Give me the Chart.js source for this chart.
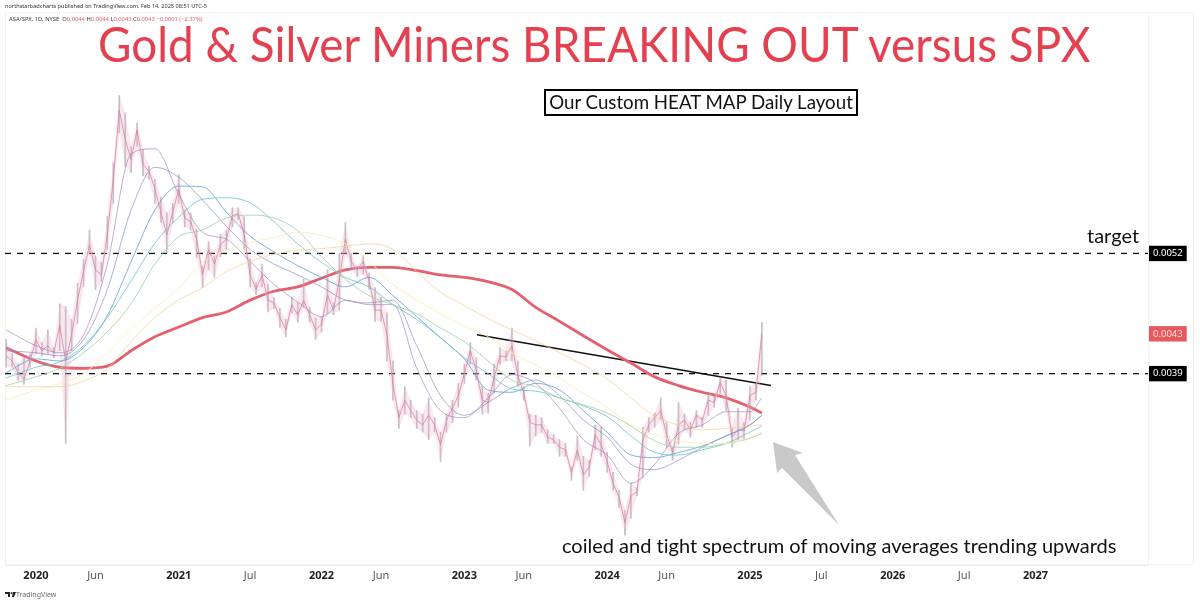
<!DOCTYPE html>
<html>
<head>
<meta charset="utf-8">
<script src="https://cdn.jsdelivr.net/npm/chart.js@4"></script>
<style>
  html, body { margin: 0; padding: 0; background: #fff; overflow: hidden; }
  #wrap { position: relative; width: 1200px; height: 603px; font-family: "Noto Sans", sans-serif; }
  #priceChart { position: absolute; left: 0; top: 0; }
  .txt { position: absolute; white-space: nowrap; color: #111; line-height: 1; }
  .note { font-family: Lato, sans-serif; font-variant-ligatures: none; }
  .up { color: #e0606a; }
  #frame { position: absolute; left: 5px; top: 12px; width: 1189px; height: 553px; border: 1px solid #f2f2f2; box-sizing: border-box; }
  #arrow, #logo { position: absolute; left: 0; top: 0; }
</style>
</head>
<body>
<div id="wrap">
  <div id="frame"></div>
  <canvas id="priceChart" width="1200" height="603"></canvas>
  <svg id="arrow" width="1200" height="603"><polygon points="773,442 803,453 795,455 839,525 782,468 777,473" fill="#c9c9c9"/></svg>

  <div class="txt" style="left:5px;top:4px;font-size:5.6px;color:#333">northstarbadcharts published on TradingView.com, Feb 14, 2025 08:51 UTC-5</div>
  <div class="txt" style="left:9px;top:17px;font-size:5.8px;color:#333">ASA/SPX, 1D, NYSE &nbsp;O<span class="up">0.0044</span> H<span class="up">0.0044</span> L<span class="up">0.0043</span> C<span class="up">0.0043</span> <span class="up">−0.0001 (−2.37%)</span></div>
  <div class="txt note" id="title" style="left:98px;top:20px;font-size:48px;color:#e5404f;transform:scaleX(.955);transform-origin:left top">Gold &amp; Silver Miners BREAKING OUT versus SPX</div>
  <div class="txt note" style="left:544px;top:89px;width:314px;height:27px;box-sizing:border-box;border:2px solid #000;font-size:18.7px;text-align:center;line-height:23px">Our Custom HEAT MAP Daily Layout</div>
  <div class="txt note" style="left:1087px;top:225px;font-size:20px">target</div>
  <div class="txt note" style="left:562px;top:535px;font-size:20px">coiled and tight spectrum of moving averages trending upwards</div>

  <svg id="logo" width="1200" height="603"><path d="M5 592h5v5h-2v-3H5zM13 592h3l-2 5h-2z" fill="#222"/><circle cx="11.6" cy="593" r="0.9" fill="#222"/></svg>
  <div class="txt" style="left:16px;top:591px;font-size:7px;color:#666">TradingView</div>
</div>

<script>
// ASA/SPX daily, sampled every half month, values are ratio x 10000
const ratioHigh = [
  42.3,40.9,39.9,40.5,40.9,43.5,42.0,43.3,41.5,46.1,45.8,44.4,48.4,51.3,55.0,51.7,50.9,56.8,64.6,75.9,
  72.8,67.2,71.1,66.7,64.1,62.1,59.5,57.3,58.6,62.8,57.7,57.3,55.1,50.4,53.5,51.7,54.4,55.0,58.0,58.0,
  56.8,51.3,48.5,50.7,48.3,46.8,45.6,44.4,46.8,46.2,48.9,45.7,44.6,44.7,50.0,46.2,52.0,56.0,52.0,50.4,
  51.7,49.6,47.9,46.8,45.1,40.2,35.7,37.8,36.6,35.7,35.4,36.8,35.1,33.9,35.4,36.6,38.1,39.9,42.0,40.5,
  37.8,37.2,39.9,41.5,41.2,43.5,40.2,37.8,35.4,35.3,35.1,34.1,33.7,33.3,33.0,31.2,33.6,32.0,31.7,34.5,
  34.3,32.3,30.8,29.5,28.1,30.0,29.7,34.3,35.1,35.5,36.8,34.7,32.7,36.4,35.4,34.7,35.7,35.1,37.3,37.0,
  38.6,38.4,34.3,35.9,34.7,37.8,38.1,44.1
];
const ratioLow = [
  39.6,39.6,38.4,38.0,39.6,40.9,40.7,40.9,40.5,41.2,33.0,41.2,44.0,48.0,52.0,47.7,48.6,52.5,58.6,69.4,
  64.0,63.1,67.2,62.6,62.1,58.6,56.0,52.0,56.0,58.6,55.4,55.0,51.5,47.9,50.0,49.1,51.6,52.5,55.4,56.4,
  52.5,48.0,47.1,48.0,45.2,45.6,43.6,42.6,45.1,44.1,45.7,44.1,42.3,43.1,45.0,44.9,45.4,52.0,50.0,49.2,
  49.5,47.7,44.2,44.2,40.2,36.6,34.2,35.4,35.1,34.2,33.9,33.3,33.9,31.6,33.9,34.7,36.0,38.1,39.9,38.4,
  35.4,35.5,37.2,39.9,40.2,40.2,37.8,36.6,32.8,33.6,33.9,33.0,33.0,32.0,32.0,30.2,31.7,29.5,30.5,32.5,
  32.0,30.8,29.5,28.3,26.5,27.6,29.1,30.4,33.9,34.3,34.9,32.7,31.7,33.0,34.1,33.5,34.3,34.3,35.3,36.0,
  37.2,35.7,32.7,33.3,33.3,34.9,36.6,38.8
];
const ratioClose = [
  40.7,40.2,39.1,38.5,40.2,42.3,41.2,41.7,41.0,43.8,40.2,42.8,46.5,49.8,53.1,50.0,49.4,54.4,62.1,73.3,
  68.3,65.1,69.9,64.3,63.3,60.7,57.4,54.4,57.4,60.7,56.6,56.1,53.8,49.4,52.5,50.7,53.1,53.8,56.9,57.2,
  54.4,49.4,47.7,49.4,46.5,46.2,44.6,43.3,46.0,44.9,46.5,44.9,43.3,43.9,47.1,45.4,48.9,53.8,51.0,50.0,
  51.0,48.6,45.4,45.4,42.8,38.0,35.1,36.6,35.7,34.9,34.5,35.3,34.5,32.9,34.9,35.9,37.0,39.0,41.2,39.3,
  36.6,36.4,38.6,40.7,40.6,41.7,38.8,37.2,34.7,34.5,34.5,33.5,33.3,32.7,32.5,30.8,32.5,30.6,31.2,33.7,
  32.9,31.6,30.0,29.0,27.3,29.1,29.4,33.3,34.5,35.1,35.7,33.7,32.3,34.5,34.9,34.1,35.3,34.9,36.6,36.4,
  38.2,37.0,33.5,34.1,34.0,37.0,37.3,42.9
];

// moving averages, read every two months (months since Jan 2020)
const maMonths = [-2.5,0,2,4,6,8,10,12,14,16,18,20,22,24,26,28,30,32,34,36,38,40,42,44,46,48,50,52,54,56,58,60,61];
const maPurple = [43.3,41.7,41.0,42.8,50.7,66.0,66.8,59.9,54.7,53.8,51.0,48.3,46.3,44.7,46.5,46.0,46.0,39.5,35.7,35.1,36.8,38.9,38.1,35.9,33.3,32.1,30.0,31.4,33.8,34.5,35.6,35.6,36.8];
const maSlate = [41.2,41.0,40.7,42.3,47.7,57.7,63.9,62.4,59.1,55.5,52.5,50.7,49.4,48.0,46.5,46.2,46.5,41.7,37.0,35.3,36.4,37.7,38.4,37.0,34.9,33.5,31.4,31.0,31.7,32.7,33.6,34.5,35.3];
const maBlue = [39.1,40.4,40.2,41.5,44.8,51.0,57.7,61.1,61.0,57.4,54.2,52.2,50.5,49.1,48.0,49.1,47.0,44.7,42.5,40.4,37.5,37.3,38.1,37.5,35.7,33.9,32.1,31.9,32.3,32.8,33.6,34.5,35.3];
const maTeal = [38.6,39.6,40.1,41.7,44.6,48.7,53.3,56.7,59.2,59.4,58.7,56.1,53.2,50.9,49.1,48.0,46.0,44.4,42.5,40.5,39.0,37.6,37.4,36.8,36.1,35.2,33.6,32.3,32.1,32.5,33.0,33.9,34.4];
const maGreen = [37.9,38.7,39.5,41.0,43.1,46.1,50.7,54.1,55.0,56.6,57.0,56.6,54.9,51.6,48.9,47.0,46.0,45.0,43.5,42.1,40.2,38.4,37.8,36.8,36.2,35.5,34.4,33.2,32.7,32.7,33.0,33.4,33.8];
const maYellow = [36.6,37.5,38.1,39.0,41.0,43.4,45.6,47.9,50.9,52.4,53.4,54.0,54.7,54.3,53.2,51.0,48.3,46.5,45.0,43.7,42.6,41.0,39.8,38.6,37.2,36.0,34.5,33.7,33.2,33.0,33.0,33.5,33.9];
const maOrange = [37.8,37.8,37.8,38.3,39.5,42.1,44.6,46.5,47.9,49.8,51.0,51.9,52.4,52.6,52.9,53.2,52.5,49.8,47.4,45.9,44.5,43.3,42.2,41.0,39.8,38.5,36.8,35.2,34.5,34.1,34.2,34.4,34.5];
const maRed = [41.5,40.2,39.6,39.5,39.7,41.2,42.6,43.6,44.6,45.2,46.5,47.5,48.0,49.0,50.0,50.3,50.3,49.9,49.4,49.1,48.6,47.7,45.7,44.2,42.7,41.3,40.0,38.7,37.9,37.3,36.8,36.0,35.5];

// drawn levels and trend line
const targetLevel = 52;
const supportLevel = 39;
const lastClose = 42.9;
const trendMonths = [37.06, 61.76];
const trendValues = [42.8, 37.9];

const xTickMonths = [0,5,12,18,24,29,36,41,48,53,60,66,72,78,84];
const xTickLabels = ['2020','Jun','2021','Jul','2022','Jun','2023','Jun','2024','Jun','2025','Jul','2026','Jul','2027'];
const yTicks = [targetLevel, lastClose, supportLevel];

const xMin = -2.6, xMax = 93.45, yMin = 24.67, yMax = 92.67;
const priceMonths = ratioClose.map((_, i) => i * 0.5 - 2.5);

function toXY(xs, ys) { return ys.map((y, i) => ({x: xs[i], y: y})); }

function maLine(values, color, width) {
    return {
        data: toXY(maMonths, values),
        borderColor: color,
        borderWidth: width || 0.9,
        pointRadius: 0,
        cubicInterpolationMode: 'monotone'
    };
}

function level(value) {
    return {
        data: [{x: xMin, y: value}, {x: xMax, y: value}],
        borderColor: '#111',
        borderWidth: 1.3,
        borderDash: [6, 6],
        pointRadius: 0
    };
}

// year labels are bold, month labels are not (no tick while the scale measures itself)
function isYear(c) {
    return !c.tick || xTickLabels[xTickMonths.indexOf(c.tick.value)].startsWith('20');
}
function isLast(c) {
    return c.tick && c.tick.value === lastClose;
}

const datasets = [
    maLine(maOrange, 'rgba(243,210,150,.85)'),
    maLine(maYellow, 'rgba(250,236,180,.9)'),
    maLine(maGreen, 'rgba(160,208,165,.9)'),
    maLine(maTeal, 'rgba(105,195,200,.9)'),
    maLine(maBlue, 'rgba(100,160,210,.9)'),
    maLine(maSlate, 'rgba(130,130,190,.7)'),
    maLine(maPurple, 'rgba(155,125,190,.7)'),
    // high-low band, the candles blur into this at this width
    {data: toXY(priceMonths, ratioHigh), borderWidth: 0, pointRadius: 0, fill: '+1', backgroundColor: 'rgba(240,170,195,.28)'},
    {data: toXY(priceMonths, ratioLow), borderWidth: 0, pointRadius: 0},
    {
        type: 'bar',
        data: ratioHigh.map((h, i) => ({x: priceMonths[i], y: [ratioLow[i], h]})),
        backgroundColor: 'rgba(120,140,155,.5)',
        barThickness: 1,
        grouped: false
    },
    {data: toXY(priceMonths, ratioClose), borderColor: '#e98aa8', borderWidth: 1, pointRadius: 0},
    maLine(maRed, '#e4606e', 2.8),
    level(targetLevel),
    level(supportLevel),
    {data: toXY(trendMonths, trendValues), borderColor: '#111', borderWidth: 1.5, pointRadius: 0}
];

new Chart(document.getElementById('priceChart'), {
    type: 'line',
    data: {datasets: datasets},
    options: {
        responsive: false,
        animation: false,
        devicePixelRatio: 1,
        layout: {padding: {left: 5, top: 12, right: 6, bottom: 14}},
        plugins: {legend: {display: false}, tooltip: {enabled: false}, title: {display: false}},
        scales: {
            x: {
                type: 'linear',
                min: xMin,
                max: xMax,
                offset: false,
                grid: {display: false, drawTicks: false, offset: false},
                border: {color: '#eeeeee'},
                afterBuildTicks: s => { s.ticks = xTickMonths.map(v => ({value: v})); },
                afterFit: s => { s.height = 24; },
                ticks: {
                    autoSkip: false,
                    maxRotation: 0,
                    padding: 4,
                    color: c => isYear(c) ? '#222' : '#555',
                    font: c => isYear(c)
                        ? {family: 'Noto Sans', size: 11, weight: 'bold'}
                        : {family: 'Noto Sans', size: 11},
                    callback: v => xTickLabels[xTickMonths.indexOf(v)]
                }
            },
            y: {
                type: 'logarithmic',
                position: 'right',
                min: yMin,
                max: yMax,
                grid: {display: false, drawTicks: false},
                border: {color: '#f2f2f2'},
                afterBuildTicks: s => { s.ticks = yTicks.map(v => ({value: v})); },
                afterFit: s => { s.width = 46; },
                ticks: {
                    autoSkip: false,
                    padding: 5,
                    font: {family: 'Noto Sans', size: 9.5},
                    color: c => isLast(c) ? '#fde4e4' : '#fff',
                    showLabelBackdrop: true,
                    backdropColor: c => isLast(c) ? '#e8585c' : '#000',
                    backdropPadding: {left: 4, right: 4, top: 2, bottom: 2},
                    callback: v => (v / 10000).toFixed(4)
                }
            }
        }
    }
});
</script>
</body>
</html>
